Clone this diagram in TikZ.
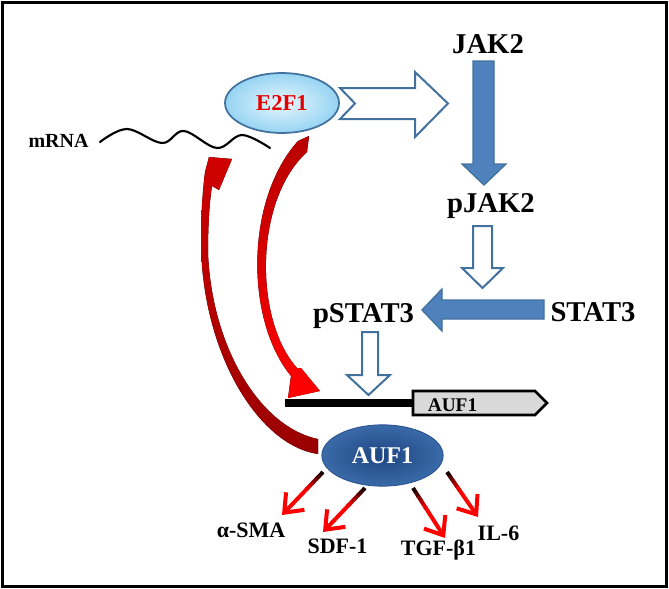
\documentclass[tikz,border=0pt]{standalone}
\usepackage{fontspec}
\setmainfont{Liberation Serif}
\usetikzlibrary{arrows.meta,shapes.geometric,calc}
\definecolor{pptline}{HTML}{41719C}
\definecolor{pptfill}{HTML}{4F81BD}
\definecolor{boxgray}{HTML}{D9D9D9}
\begin{document}
\begin{tikzpicture}[x=0.75pt,y=-0.75pt,
  bigtxt/.style={font=\bfseries\fontsize{21.5}{24}\selectfont,anchor=base,inner sep=0pt},
  smalltxt/.style={font=\bfseries\fontsize{16.5}{19}\selectfont,anchor=base,inner sep=0pt},
  solidarrow/.style={fill=pptfill,draw=pptline,line width=1pt,line join=miter},
  hollowarrow/.style={fill=white,draw=pptline,line width=1.5pt,line join=miter},
  redtip/.style={-{Straight Barb[length=12pt,width=19pt]}}]
\useasboundingbox (0,0) rectangle (669,589);
\draw[line width=1.9pt] (2.5,2.5) rectangle (666.5,586.5);

% text nodes
\node[bigtxt] (jak) at (488,53) {JAK2};
\node[bigtxt] (pjak) at (491,212) {pJAK2};
\node[bigtxt] (pstat) at (363.5,322) {pSTAT3};
\node[bigtxt] (stat) at (593,321) {STAT3};
\node[font=\bfseries\fontsize{15}{18}\selectfont,anchor=base,inner sep=0pt] (mrna) at (58.5,147) {mRNA};

% ellipses
\node[ellipse,draw=pptline,line width=1.3pt,inner color={rgb,255:red,232;green,246;blue,253},outer color={rgb,255:red,150;green,212;blue,243},
  minimum width=85.5pt,minimum height=45pt,inner sep=0pt,
  font=\bfseries\fontsize{17}{20}\selectfont,text=red!90!black] (e2f1) at (282,103) {E2F1};
\node[ellipse,draw={rgb,255:red,40;green,80;blue,140},line width=0.6pt,inner color={rgb,255:red,30;green,70;blue,130},outer color={rgb,255:red,58;green,106;blue,168},
  minimum width=91pt,minimum height=46pt,inner sep=0pt,
  font=\bfseries\fontsize{18}{21}\selectfont,text=white] (auf) at (382.5,455.5) {AUF1};

% block arrows
\draw[hollowarrow] (340,88) -- (415,88) -- (415,72) -- (448,103.5) -- (415,137) -- (415,119) -- (340,119) -- (355,103.5) -- cycle;
\draw[solidarrow] (473,61) -- (494,61) -- (494,164) -- (506,164) -- (484,185) -- (462,164) -- (473,164) -- cycle;
\draw[hollowarrow] (473,226) -- (492,226) -- (492,268) -- (503,268) -- (482.5,288) -- (462,268) -- (473,268) -- cycle;
\draw[solidarrow] (544,300) -- (544,319) -- (442,319) -- (442,331) -- (422,310) -- (442,289) -- (442,300) -- cycle;
\draw[hollowarrow] (362,332) -- (378,332) -- (378,375) -- (390,375) -- (368.5,395) -- (347,375) -- (362,375) -- cycle;

% gene
\coordinate (genestart) at (285,403);
\coordinate (geneleft) at (413,403);
\draw[line width=6pt] (genestart) -- (geneleft);
\draw[fill=boxgray,line width=1.9pt,line join=miter] (413,391) -- (535,391) -- (547,403) -- (535,415) -- (413,415) -- cycle;
\node[font=\bfseries\fontsize{14.5}{17}\selectfont,anchor=base,inner sep=0pt] (gene) at (452.5,411) {AUF1};

% mRNA wave
\draw[line width=1.6pt,line cap=round] plot[smooth,tension=0.6] coordinates {(100,142) (127,129) (162,143) (184,131) (217,148) (242,135) (270,148)};

% red curved arrow E2F1 -> gene
\fill[top color=red!72!black,bottom color=red] (298,141) .. controls (245,200) and (245,320) .. (291,376) -- (288,398) -- (320,391) -- (301,368) -- (297,368) .. controls (254,320) and (254,200) .. (307,152) -- (309,136) -- cycle;
% red curved arrow AUF1 -> mRNA
\fill[top color=red!82!black,bottom color=red!60!black] (318,454) .. controls (257,445) and (201,350) .. (201,240) .. controls (201,212) and (203,188) .. (205,172) -- (209,157) -- (232,159) -- (219,190) -- (212,186) .. controls (209,205) and (208,230) .. (208,253) .. controls (212,350) and (262,428) .. (318,439) -- cycle;

% output arrows
\foreach \sx/\sy/\tx/\ty in {323/472/282/515, 365/488/323/532, 413/488/445/538, 447/472/478/517}{
  \coordinate (S) at (\sx,\sy);
  \coordinate (T) at (\tx,\ty);
  \draw[line width=3pt,red,redtip] ($(S)!0.38!(T)$) -- (T);
  \foreach \i in {0,...,4}{
    \pgfmathsetmacro{\a}{\i*0.08}
    \pgfmathsetmacro{\b}{(\i+1)*0.08+0.01}
    \pgfmathsetmacro{\c}{90-\i*20}
    \draw[line width=3pt,black!\c!red] ($(S)!\a!(T)$) -- ($(S)!\b!(T)$);
  }
}

% labels
\node[smalltxt] (sma) at (251,537) {α-SMA};
\node[smalltxt] (sdf) at (337.5,553) {SDF-1};
\node[smalltxt] (tgf) at (438.5,555) {TGF-β1};
\node[smalltxt] (il6) at (498.5,540) {IL-6};
\end{tikzpicture}
\end{document}
